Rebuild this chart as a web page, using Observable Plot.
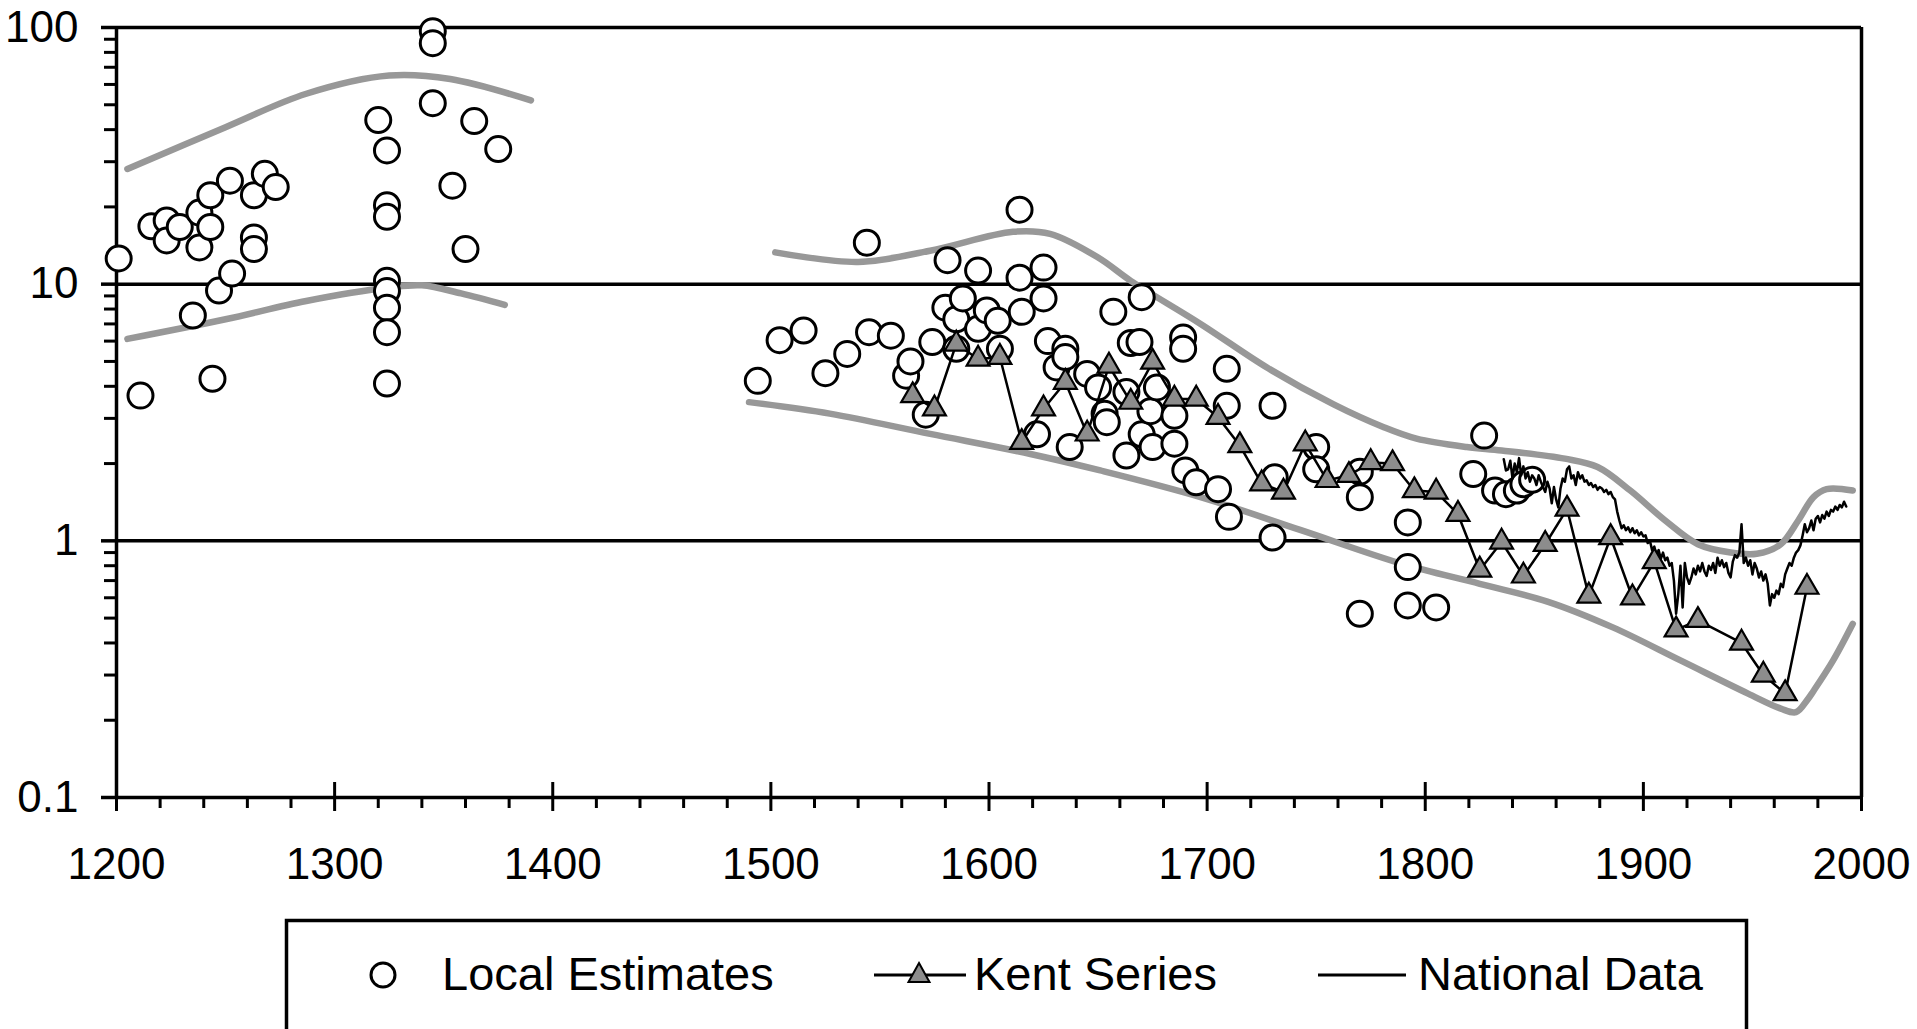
<!DOCTYPE html>
<html><head><meta charset="utf-8">
<script src="https://cdn.jsdelivr.net/npm/d3@7"></script>
<script src="https://cdn.jsdelivr.net/npm/@observablehq/plot@0.6"></script>
<style>
html,body{margin:0;padding:0;background:#fff;overflow:hidden;}
body{width:1917px;height:1029px;position:relative;font-family:"Liberation Sans",Arial,sans-serif;}
#chart{position:absolute;left:0;top:0;}
#legend{position:absolute;left:0;top:900px;}
</style></head><body>
<div id="chart"></div>
<svg id="legend" width="1917" height="129" font-family="'Liberation Sans', Arial, sans-serif" font-size="47">
  <rect x="286.5" y="20.5" width="1460" height="200" fill="none" stroke="#000" stroke-width="3.5"/>
  <circle cx="383" cy="75" r="12" fill="#fff" stroke="#000" stroke-width="3"/>
  <text x="442" y="90" fill="#000">Local Estimates</text>
  <line x1="874" x2="966" y1="75" y2="75" stroke="#000" stroke-width="3"/>
  <polygon points="919,63 929.5,82 908.5,82" fill="#8c8c8c" stroke="#000" stroke-width="2"/>
  <text x="974" y="90" fill="#000">Kent Series</text>
  <line x1="1318" x2="1406" y1="75" y2="75" stroke="#000" stroke-width="3"/>
  <text x="1418" y="90" fill="#000">National Data</text>
</svg>
<script>
// ---- Local Estimates (circles) ----
const localYears = [
  1201,1211,1216,1223,1223,1229,1235,1238,1238,1243,1243,1244,1247,1252,1253,1263,1263,1263,1268,1273,
  1320,1324,1324,1324,1324,1324,1324,1324,1324,1345,1345,1345,1354,1360,1364,1375,
  1494,1504,1515,1525,1535,1544,1545,1555,1562,1564,1571,1574,1581,1580,1585,1585,1588,1595,1595,1599,
  1604,1605,1614,1614,1615,1625,1625,1622,1627,1631,1635,1635,1637,1645,1650,1653,1654,1657,1663,1663,
  1665,1669,1670,1670,1674,1675,1677,1685,1685,1689,1689,1690,1695,1705,1709,1709,1710,1730,1730,1731,
  1750,1750,1770,1770,1770,1792,1792,1792,1805,1822,1827,1832,1837,1842,1845,1849
];
const localValues = [
  12.6,3.68,16.8,17.7,14.8,16.7,7.55,19,13.9,22.2,16.7,4.28,9.44,25.3,11,22.2,15.2,13.7,26.9,23.9,
  43.6,33.2,20.3,18.3,10.3,9.4,8.1,6.5,4.1,96.8,86.9,50.7,24.2,13.7,43.2,33.6,
  4.2,6.05,6.6,4.5,5.35,14.5,6.5,6.3,4.4,5.0,3.1,5.95,12.4,8.1,7.3,5.6,8.8,11.3,6.7,7.9,
  7.2,5.6,19.5,10.6,7.8,11.6,8.8,2.6,6.0,4.74,5.6,5.2,2.32,4.47,3.96,3.13,2.9,7.8,3.8,2.15,
  5.9,5.95,8.9,2.6,3.2,2.32,3.96,3.07,2.39,6.2,5.6,1.88,1.69,1.59,4.68,3.36,1.24,3.36,1.03,1.77,
  2.32,1.9,1.48,1.86,0.52,1.18,0.79,0.56,0.55,1.82,2.57,1.57,1.52,1.57,1.66,1.73
];

// ---- Kent Series (triangles) ----
const kentYears = [1565,1575,1585,1595,1605,1615,1625,1635,1645,1655,1665,1675,1685,1695,1705,1715,1725,1735,
  1745,1755,1765,1775,1785,1795,1805,1815,1825,1835,1845,1855,1865,1875,1885,1895,1905,1915,1925,1945,1955,1965,1975];
const kentValues = [3.68,3.27,5.85,5.11,5.19,2.42,3.27,4.15,2.61,4.8,3.47,4.97,3.57,3.57,3.03,2.35,1.67,1.55,
  2.39,1.72,1.8,2.02,2.0,1.57,1.55,1.27,0.77,0.99,0.73,0.97,1.33,0.61,1.03,0.60,0.83,0.45,0.49,0.40,0.30,0.254,0.66];

// ---- National Data (annual line, 1836-1993) ----
const nationalFirstYear = 1836;
const nationalValues = [
  2.08,1.88,
  1.90,2.05,1.75,2.00,1.85,2.10,1.80,1.95,1.75,1.85,1.70,1.80,1.75,1.65,1.80,1.70,1.62,1.55,1.70,1.60,
  1.40,1.62,1.45,1.35,1.60,1.75,1.70,1.90,1.95,1.75,1.80,1.65,1.85,1.75,1.80,1.70,1.72,1.65,1.68,1.62,
  1.65,1.58,1.62,1.60,1.55,1.58,1.52,1.55,1.48,1.45,1.30,1.20,1.12,1.15,1.10,1.13,1.08,1.12,1.07,1.10,
  1.05,1.08,1.04,1.05,0.98,1.00,0.92,0.95,0.88,0.92,0.85,0.90,0.84,0.86,0.80,0.82,0.70,0.52,0.62,0.80,
  0.55,0.82,0.72,0.68,0.72,0.78,0.74,0.80,0.76,0.82,0.76,0.73,0.80,0.77,0.82,0.75,0.86,0.80,0.84,0.79,
  0.82,0.75,0.72,0.83,0.88,0.86,0.90,1.16,0.82,0.86,0.80,0.84,0.74,0.82,0.78,0.72,0.76,0.70,0.74,0.68,
  0.56,0.62,0.60,0.64,0.62,0.68,0.66,0.74,0.78,0.82,0.80,0.86,0.90,0.92,0.96,1.05,1.16,1.08,1.12,1.20,
  1.10,1.22,1.25,1.18,1.26,1.22,1.30,1.25,1.32,1.30,1.36,1.32,1.38,1.35,1.42,1.36
];

// ---- Grey envelope curves ----
const upperLeftYears = [1205,1250,1287,1325,1353,1390];
const upperLeftValues = [28.1,40.9,55.2,65,63,52];
const lowerLeftYears = [1205,1250,1287,1325,1340,1358,1378];
const lowerLeftValues = [6.12,7.3,8.6,9.7,9.9,9.2,8.3];
const upperRightYears = [1502,1540,1573,1611,1628,1650,1665,1697,1728,1758,1781,1796,1819,1835,1864,1879,1894,1910,1925,1940,1952,1963,1971,1978,1984,1996];
const upperRightValues = [13.3,12.2,13.5,16,15.7,12.7,10.3,7.0,4.7,3.4,2.77,2.5,2.32,2.25,2.09,1.94,1.57,1.2,0.97,0.90,0.89,0.97,1.2,1.48,1.59,1.57];
const lowerRightYears = [1490,1527,1573,1619,1651,1697,1743,1789,1825,1856,1886,1917,1948,1963,1970,1975,1978,1987,1996];
const lowerRightValues = [3.47,3.13,2.61,2.18,1.88,1.48,1.10,0.815,0.68,0.58,0.46,0.342,0.254,0.222,0.215,0.239,0.26,0.342,0.475];

// ---- Axis ticks ----
const xMajorTicks = [1200,1300,1400,1500,1600,1700,1800,1900,2000];
const xMinorTicks = [1220,1240,1260,1280,1320,1340,1360,1380,1420,1440,1460,1480,1520,1540,1560,1580,
  1620,1640,1660,1680,1720,1740,1760,1780,1820,1840,1860,1880,1920,1940,1960,1980];
const yMajorTicks = [0.1,1,10,100];
const yMinorTicks = [0.2,0.3,0.4,0.5,0.6,0.7,0.8,0.9,2,3,4,5,6,7,8,9,20,30,40,50,60,70,80,90];
const yGridlines = [1,10,100];

const local = localYears.map((year,i)=>({year, value: localValues[i]}));
const kent = kentYears.map((year,i)=>({year, value: kentValues[i]}));
const national = nationalValues.map((value,i)=>({year: nationalFirstYear + i, value}));
const bands = [
  ...upperLeftYears.map((year,i)=>({band:"ul", year, value: upperLeftValues[i]})),
  ...lowerLeftYears.map((year,i)=>({band:"ll", year, value: lowerLeftValues[i]})),
  ...upperRightYears.map((year,i)=>({band:"ur", year, value: upperRightValues[i]})),
  ...lowerRightYears.map((year,i)=>({band:"lr", year, value: lowerRightValues[i]}))
];

const chart = Plot.plot({
  width: 1917, height: 900,
  marginLeft: 116, marginRight: 56, marginTop: 27, marginBottom: 103,
  x: {type: "linear", domain: [1200, 2000], axis: null, label: null},
  y: {type: "log", domain: [0.1, 100], axis: null, label: null},
  style: {fontFamily: '"Liberation Sans", Arial, sans-serif', background: "white", color: "black", overflow: "visible"},
  marks: [
    Plot.ruleY(yGridlines, {stroke: "black", strokeWidth: 3.5}),
    Plot.ruleY([0.1], {stroke: "black", strokeWidth: 3.5}),
    Plot.ruleX([1200, 2000], {stroke: "black", strokeWidth: 3.5}),
    Plot.ruleY(yMajorTicks, {x1: 1200, x2: 1200, insetLeft: -15, stroke: "black", strokeWidth: 3.5}),
    Plot.ruleY(yMinorTicks, {x1: 1200, x2: 1200, insetLeft: -12, stroke: "black", strokeWidth: 3}),
    Plot.ruleX(xMajorTicks, {y1: 0.1, y2: 0.1, insetTop: -15, insetBottom: -14, stroke: "black", strokeWidth: 3}),
    Plot.ruleX(xMinorTicks, {y1: 0.1, y2: 0.1, insetTop: 0, insetBottom: -11, stroke: "black", strokeWidth: 3}),
    Plot.axisX(xMajorTicks, {anchor: "bottom", tickSize: 0, tickPadding: 50, fontSize: 44, tickFormat: d => `${d}`, label: null}),
    Plot.axisY(yMajorTicks, {anchor: "left", tickSize: 0, tickPadding: 38, fontSize: 44, tickFormat: d => `${d}`, label: null}),
    Plot.line(bands, {x: "year", y: "value", z: "band", stroke: "#989898", strokeWidth: 6.5, curve: "catmull-rom"}),
    Plot.dot(local, {x: "year", y: "value", r: 12.5, fill: "white", stroke: "black", strokeWidth: 3}),
    Plot.line(national, {x: "year", y: "value", stroke: "black", strokeWidth: 2.5}),
    Plot.line(kent, {x: "year", y: "value", stroke: "black", strokeWidth: 2.5}),
    Plot.dot(kent, {x: "year", y: "value", symbol: "triangle", r: 8.5, fill: "#8c8c8c", stroke: "black", strokeWidth: 2.2})
  ]
});
document.getElementById("chart").append(chart);
</script>
</body></html>
